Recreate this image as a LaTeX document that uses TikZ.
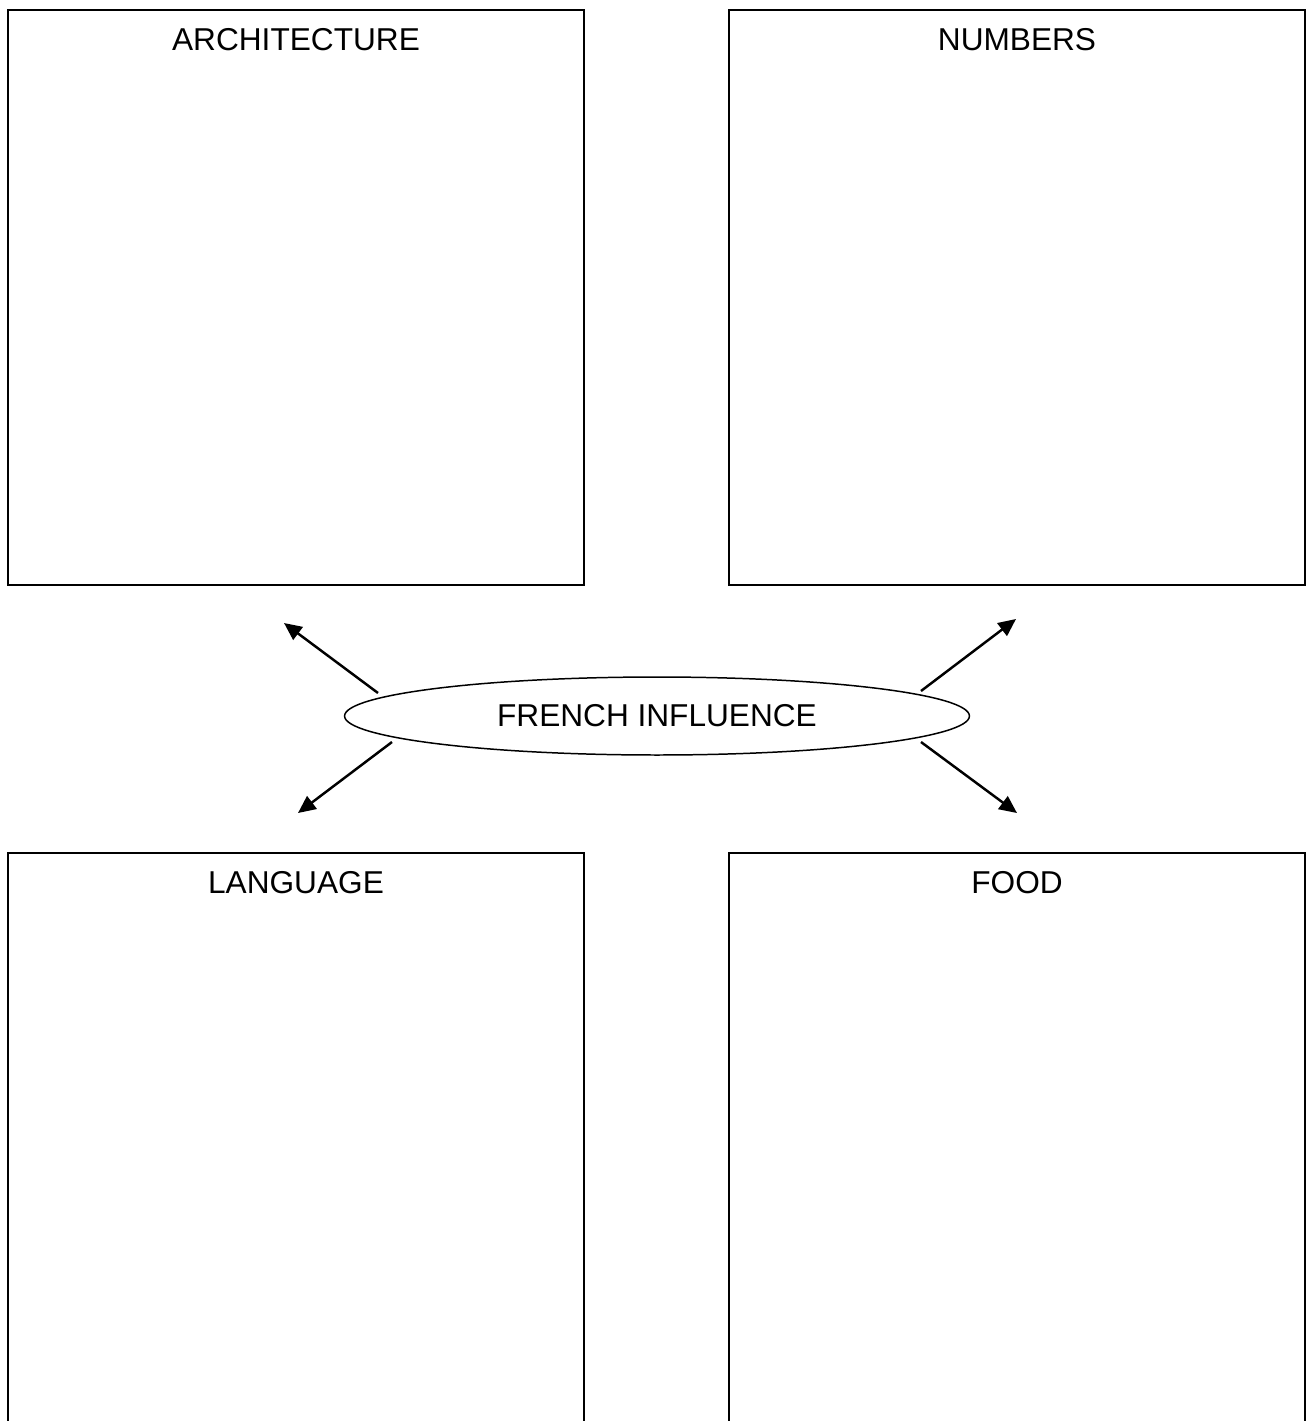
\documentclass[tikz,border=0pt]{standalone}
\usepackage{fontspec}
\setmainfont{Liberation Sans}
\usetikzlibrary{shapes.geometric,arrows.meta}

\begin{document}
\begin{tikzpicture}[x=0.02cm,y=-0.02cm,
  topicbox/.style={draw,line width=0.85pt,minimum width=11.52cm,inner sep=0pt},
  topic/.style={font=\fontsize{18}{22}\selectfont},
  link/.style={line width=1.4pt,-{Triangle[length=10pt,width=9pt]}}]

\useasboundingbox (0,0) rectangle (1307,1421);

\node[topicbox,minimum height=11.5cm] (arch) at (296,297.5) {};
\node[topicbox,minimum height=11.5cm] (numb) at (1017,297.5) {};
\node[topicbox,minimum height=11.74cm] (lang) at (296,1146.5) {};
\node[topicbox,minimum height=11.74cm] (food) at (1017,1146.5) {};

\node[topic] (archtxt) at ([yshift=-0.6cm]arch.north) {ARCHITECTURE};
\node[topic] (numbtxt) at ([yshift=-0.6cm]numb.north) {NUMBERS};
\node[topic] (langtxt) at ([yshift=-0.6cm]lang.north) {LANGUAGE};
\node[topic] (foodtxt) at ([yshift=-0.6cm]food.north) {FOOD};

\node[ellipse,draw,line width=0.85pt,minimum width=12.5cm,minimum height=1.56cm,topic] (fr) at (657,716) {FRENCH INFLUENCE};

\coordinate (s1) at (378,693);
\coordinate (e1) at (284,623);
\coordinate (s2) at (921,691);
\coordinate (e2) at (1016,619);
\coordinate (s3) at (392,742);
\coordinate (e3) at (298,813);
\coordinate (s4) at (921,742);
\coordinate (e4) at (1017,813);

\draw[link] (s1) -- (e1);
\draw[link] (s2) -- (e2);
\draw[link] (s3) -- (e3);
\draw[link] (s4) -- (e4);

\end{tikzpicture}
\end{document}
